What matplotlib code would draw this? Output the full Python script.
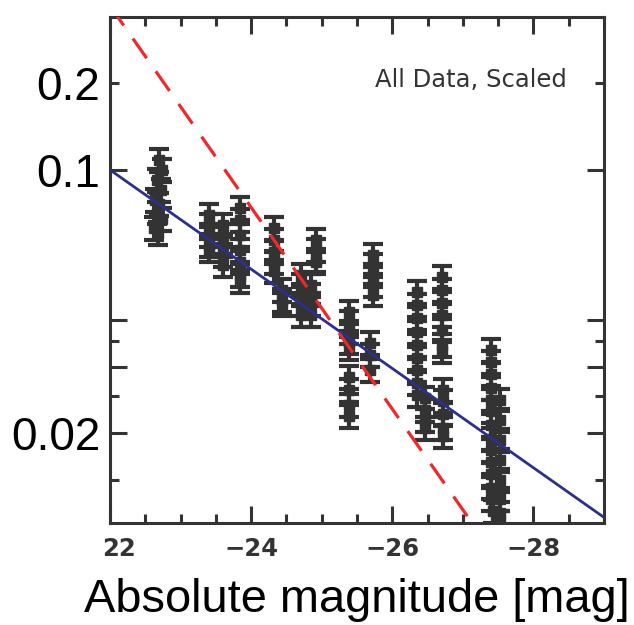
import numpy as np
import matplotlib.pyplot as plt
import matplotlib.transforms as mtransforms
from matplotlib.ticker import FixedLocator, FixedFormatter

# absolute magnitude of each source and its scaled fraction
mag = np.array([
    -22.70, -22.74, -22.66, -22.72, -22.64, -22.70, -22.66, -22.73, -22.62, -22.68,
    -23.40, -23.40, -23.40, -23.40, -23.40,
    -23.60, -23.60, -23.60, -23.60, -23.60,
    -23.84, -23.84, -23.84, -23.84, -23.84, -23.84, -23.84,
    -24.33, -24.33, -24.33, -24.33, -24.33,
    -24.44, -24.44, -24.44,
    -24.71, -24.71, -24.71, -24.71, -24.71,
    -24.85, -24.85, -24.85, -24.85,
    -24.92, -24.92, -24.92, -24.92,
    -25.72, -25.72, -25.72, -25.72, -25.72,
    -25.39, -25.39, -25.39, -25.39, -25.39,
    -25.39, -25.39, -25.39, -25.39,
    -25.68, -25.68, -25.68,
    -26.35, -26.35, -26.35, -26.35, -26.35, -26.35, -26.35, -26.35, -26.35,
    -26.47, -26.47, -26.47, -26.47,
    -26.70, -26.70, -26.70, -26.70, -26.70, -26.70, -26.70,
    -26.72, -26.72, -26.72, -26.72, -26.72,
    -27.40, -27.40, -27.40, -27.40, -27.40, -27.40, -27.40, -27.40, -27.40,
    -27.40, -27.40, -27.40, -27.40, -27.42,
    -27.52, -27.52, -27.52, -27.52, -27.52, -27.52, -27.52, -27.52,
])
frac = np.array([
    0.106, 0.100, 0.094, 0.0885, 0.083, 0.081, 0.077, 0.074, 0.070, 0.068,
    0.0759, 0.0714, 0.0672, 0.0632, 0.0612,
    0.0714, 0.0672, 0.0632, 0.0594, 0.0559,
    0.079, 0.0736, 0.0672, 0.0612, 0.057, 0.0526, 0.0505,
    0.070, 0.0651, 0.0606, 0.057, 0.0537,
    0.048, 0.0451, 0.044,
    0.0526, 0.0495, 0.0466, 0.044, 0.0412,
    0.0495, 0.0466, 0.044, 0.0412,
    0.0651, 0.0612, 0.0576, 0.057,
    0.0594, 0.0559, 0.0526, 0.0495, 0.0466,
    0.0418, 0.0394, 0.037, 0.0348, 0.0336,
    0.0281, 0.026, 0.0237, 0.0222,
    0.0346, 0.0322, 0.0294,
    0.0474, 0.0437, 0.0404, 0.0371, 0.0343, 0.0316, 0.0294, 0.0271, 0.0252,
    0.0248, 0.0230, 0.0216, 0.0206,
    0.0519, 0.048, 0.0443, 0.0412, 0.0375, 0.0343, 0.033,
    0.026, 0.0243, 0.0224, 0.0206, 0.0196,
    0.0332, 0.0309, 0.0286, 0.0263, 0.0245, 0.0228, 0.0210, 0.0193, 0.0180,
    0.0167, 0.0155, 0.0143, 0.0133, 0.0124,
    0.0245, 0.0216, 0.0191, 0.0169, 0.0150, 0.0133, 0.0122, 0.0116,
])
rel_err = 0.07

# power-law fits: f = norm * (L / L(-22))^-index
shallow_norm, shallow_index = 0.1, 0.33
steep_norm, steep_index = 0.273, 0.67

x_ticks = [-22, -24, -26, -28]
x_labels = ['22', '\u221224', '\u221226', '\u221228']
y_major = [0.1, 0.04, 0.03, 0.02]
y_major_labels = ['0.1', '', '', '0.02']
y_minor = [0.17, 0.035, 0.025, 0.015]
y_minor_labels = ['0.2', '', '', '']

ink = '#333333'

fig = plt.figure(figsize=(6.34, 6.25), dpi=100)
ax = fig.add_axes([0.1735, 0.1632, 0.7792, 0.8096])
ax.set_yscale('log')
ax.set_xlim(-22, -29)
ax.set_ylim(0.01151, 0.255)

ax.errorbar(mag, frac, yerr=rel_err * frac, fmt='s', color=ink, ms=7,
            elinewidth=3, capsize=7.5, capthick=3, zorder=2)

m = np.linspace(-22, -29, 100)
ax.plot(m, shallow_norm * 10 ** (0.4 * shallow_index * (m + 22)),
        color='#2b2f8f', lw=2.0, zorder=3)
ax.plot(m, steep_norm * 10 ** (0.4 * steep_index * (m + 22)),
        color='#f02828', lw=2.3, dashes=(7.5, 5), zorder=3)

ax.text(0.925, 0.8755, 'All Data, Scaled', transform=ax.transAxes,
        ha='right', va='center', fontsize=17.5, color=ink)

# axes frame and ticks
for s in ax.spines.values():
    s.set_linewidth(2.2)
    s.set_color(ink)

ax.xaxis.set_major_locator(FixedLocator(x_ticks))
ax.xaxis.set_major_formatter(FixedFormatter(x_labels))
ax.xaxis.set_minor_locator(FixedLocator(np.arange(-29, -22, 0.5)))
ax.yaxis.set_major_locator(FixedLocator(y_major))
ax.yaxis.set_major_formatter(FixedFormatter(y_major_labels))
ax.yaxis.set_minor_locator(FixedLocator(y_minor))
ax.yaxis.set_minor_formatter(FixedFormatter(y_minor_labels))

ax.tick_params(which='both', direction='in', top=True, right=True,
               width=2.2, color=ink)
ax.tick_params(which='major', length=12)
ax.tick_params(which='minor', length=6.5)
ax.tick_params(axis='x', labelsize=17.5, labelcolor=ink, pad=10)
ax.tick_params(axis='y', which='both', labelsize=33, labelcolor='black',
               pad=7, labelfontfamily='Liberation Sans')
for lab in ax.get_xticklabels():
    lab.set_fontweight('bold')

first = ax.get_xticklabels()[0]
first.set_transform(first.get_transform()
                    + mtransforms.ScaledTranslation(0.09, 0, fig.dpi_scale_trans))

fig.text(0.563, 0.02, 'Absolute magnitude [mag]', ha='center', va='baseline',
         fontsize=33.8, family='Liberation Sans')

fig.savefig('out.png', dpi=100)
